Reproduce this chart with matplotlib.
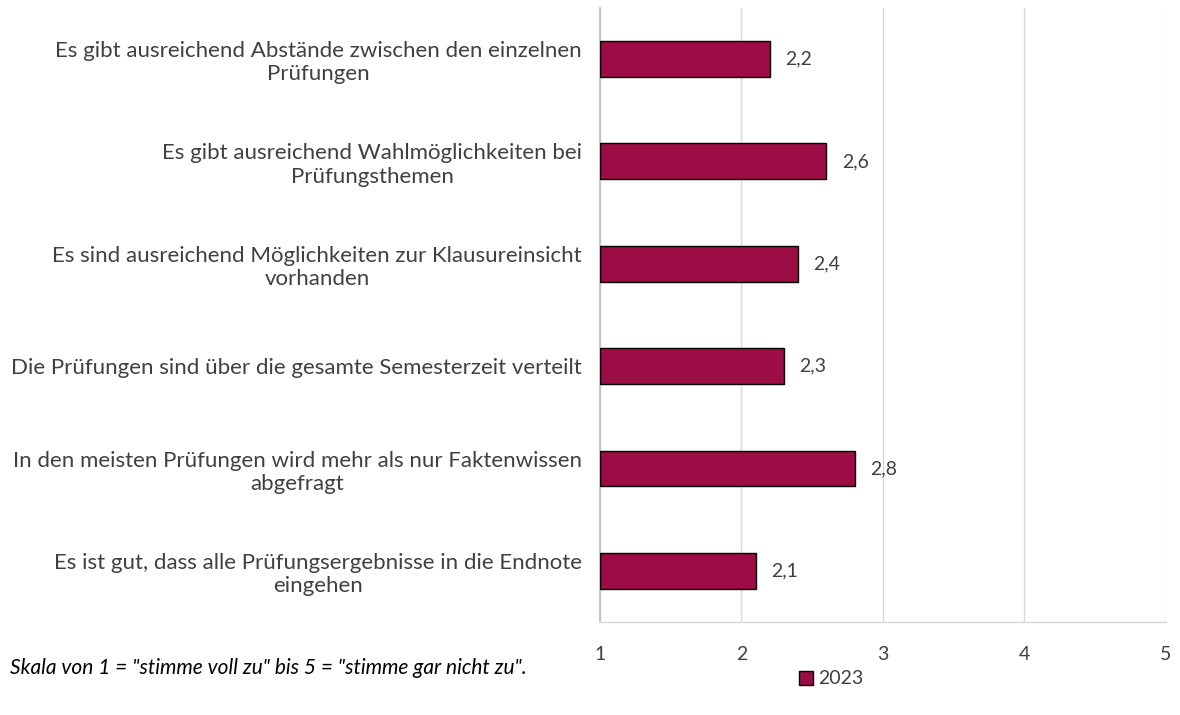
import matplotlib.pyplot as plt
import numpy as np

# Daten
kategorien = [
    "Es gibt ausreichend Abstände zwischen den einzelnen\nPrüfungen",
    "Es gibt ausreichend Wahlmöglichkeiten bei\nPrüfungsthemen",
    "Es sind ausreichend Möglichkeiten zur Klausureinsicht\nvorhanden",
    "Die Prüfungen sind über die gesamte Semesterzeit verteilt",
    "In den meisten Prüfungen wird mehr als nur Faktenwissen\nabgefragt",
    "Es ist gut, dass alle Prüfungsergebnisse in die Endnote\neingehen",
]
werte_2023 = [2.2, 2.6, 2.4, 2.3, 2.8, 2.1]
x_ticks = [1, 2, 3, 4, 5]

plt.rcParams['font.family'] = ['Lato', 'DejaVu Sans']
textfarbe = '#404040'
balkenfarbe = '#9B0D44'

fig = plt.figure(figsize=(11.8, 7.15), dpi=100)
ax = fig.add_axes([0.5085, 0.130, 0.4795, 0.859])

y = np.arange(len(kategorien))
balken = ax.barh(y, [w - 1 for w in werte_2023], left=1, height=0.35,
                 color=balkenfarbe, edgecolor='black', linewidth=1, label='2023', zorder=3)

for yi, w in zip(y, werte_2023):
    ax.text(w + 0.11, yi, f"{w:.1f}".replace('.', ','), va='center', ha='left',
            fontsize=14, color=textfarbe)

ax.set_xlim(1, 5)
ax.set_ylim(len(kategorien) - 0.5, -0.5)
ax.set_xticks(x_ticks)
ax.set_xticklabels([str(t) for t in x_ticks], fontsize=14, color=textfarbe)
ax.set_yticks(y)
ax.set_yticklabels(kategorien, fontsize=16, color=textfarbe, ha='right',
                   multialignment='center', linespacing=1.2)
ax.tick_params(axis='y', length=0, pad=13)
ax.tick_params(axis='x', length=0, pad=17)

ax.grid(axis='x', color='#d9d9d9', linewidth=1, zorder=0)
for s in ['top', 'right']:
    ax.spines[s].set_visible(False)
ax.spines['left'].set_color('#bfbfbf')
ax.spines['left'].set_linewidth(1.2)
ax.spines['bottom'].set_color('#d9d9d9')
ax.spines['bottom'].set_linewidth(1)

fig.text(10 / 1180, 1 - 668 / 715, 'Skala von 1 = "stimme voll zu" bis 5 = "stimme gar nicht zu".',
         fontsize=15, style='italic', color='black', va='center', ha='left')

fig.legend(handles=[balken], labels=['2023'], loc='center', bbox_to_anchor=(831 / 1180, 1 - 679 / 715),
           frameon=False, fontsize=14, handlelength=0.75, handleheight=0.75, handletextpad=0.25,
           labelcolor=textfarbe)

fig.savefig('out.png', dpi=100)
